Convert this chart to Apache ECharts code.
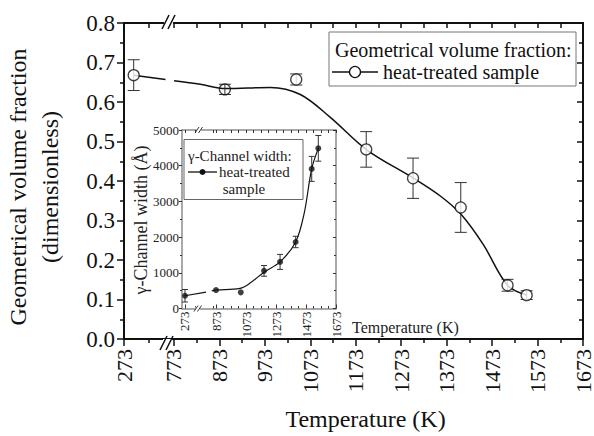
<!DOCTYPE html>
<html><head><meta charset="utf-8">
<script src="https://cdn.jsdelivr.net/npm/echarts@6/dist/echarts.min.js"></script>
<style>
html,body{margin:0;padding:0;background:#fff}
#c{width:594px;height:436px}
#c text{font-family:'Liberation Serif', serif !important;}
</style>
</head><body><div id="c"></div>
<script>
const FONT = "'Liberation Serif', serif";
const BLACK = '#111';
const GREY = '#8c8c8c';

// ---------- main chart ----------
const mainTickLabels = ['273','773','873','973','1073','1173','1273','1373','1473','1573','1673'];
const mainMinorTemps = [523, 823, 923, 1023, 1123, 1223, 1323, 1423, 1523, 1623];
const mainTemp = [370, 885, 1042, 1196, 1299, 1404, 1507, 1549];
const mainFrac = [0.668, 0.632, 0.657, 0.480, 0.407, 0.333, 0.136, 0.111];
const mainErr  = [0.039, 0.013, 0.014, 0.045, 0.051, 0.063, 0.015, 0.011];
const fitTemp = [370, 688, 730, 773, 831, 886, 985, 1051, 1117, 1197, 1300, 1359, 1405, 1453, 1507, 1549];
const fitFrac = [0.668, 0.657, null, 0.654, 0.645, 0.634, 0.637, 0.619, 0.561, 0.479, 0.407, 0.362, 0.315, 0.24, 0.136, 0.111];

// ---------- inset ----------
const insetTickLabels = ['273','873','1073','1273','1473','1673'];
const insetMinorTemps = [473, 823, 923, 973, 1023, 1123, 1173, 1223, 1323, 1373, 1423, 1523, 1573, 1623];
const insetTemp  = [273, 873, 1038, 1193, 1300, 1404, 1511, 1555];
const insetWidth = [357, 516, 452, 1054, 1305, 1863, 3911, 4486];
const insetErr   = [175, 0, 0, 150, 210, 160, 350, 360];
const insetFitTemp  = [273, 679, 735, 790, 873, 1033, 1100, 1193, 1300, 1404, 1460, 1511, 1555];
const insetFitWidth = [357, 460, null, 494, 516, 563, 711, 1018, 1305, 1863, 2650, 3911, 4486];

// broken-axis mappings (temperature -> axis units)
function mainU(T){ return T >= 773 ? T - 663 : (T - 273) * 110 / 500; }
function insetU(T){ return T >= 873 ? T - 646 : 20 + (T - 273) * 207 / 600; }

const mainTickU = mainTickLabels.map(s => mainU(+s));
const mainMinorU = mainMinorTemps.map(mainU);
const insetTickU = insetTickLabels.map(s => insetU(+s));
const insetMinorU = insetMinorTemps.map(insetU);

function labelFor(ticks, labels){
  return function(v){
    for (let i = 0; i < ticks.length; i++) if (Math.abs(ticks[i] - v) < 1e-6) return labels[i];
    return '';
  };
}

function errBar(half, color){
  return function(params, api){
    const u = api.value(0), lo = api.value(1), hi = api.value(2);
    const a = api.coord([u, lo]), b = api.coord([u, hi]);
    const st = {stroke: color, lineWidth: 1};
    return {type:'group', children:[
      {type:'line', shape:{x1:a[0], y1:a[1], x2:b[0], y2:b[1]}, style:st},
      {type:'line', shape:{x1:a[0]-half, y1:a[1], x2:a[0]+half, y2:a[1]}, style:st},
      {type:'line', shape:{x1:b[0]-half, y1:b[1], x2:b[0]+half, y2:b[1]}, style:st}
    ]};
  };
}

// the 2nd point is drawn see-through in the original (curve and bar visible inside)
const mainPts = mainTemp.map((t,i) => i === 1
  ? {value:[mainU(t), mainFrac[i]], itemStyle:{color:'rgba(255,255,255,0)'}}
  : [mainU(t), mainFrac[i]]);
const mainErrData = mainTemp.map((t,i) => [mainU(t), mainFrac[i]-mainErr[i], mainFrac[i]+mainErr[i]]);
const fitData = fitTemp.map((t,i) => [mainU(t), fitFrac[i] === null ? '-' : fitFrac[i]]);

const insetPts = insetTemp.map((t,i) => [insetU(t), insetWidth[i]]);
const insetErrData = insetTemp.map((t,i) => [insetU(t), insetWidth[i]-insetErr[i], insetWidth[i]+insetErr[i]]).filter((d,i) => insetErr[i] > 0);
const insetFitData = insetFitTemp.map((t,i) => [insetU(t), insetFitWidth[i] === null ? '-' : insetFitWidth[i]]);

const chart = echarts.init(document.getElementById('c'), null, {renderer:'svg', width:594, height:436});

const noSplit = {show:false};
const option = {
  animation:false,
  backgroundColor:'#fff',
  textStyle:{fontFamily:FONT},
  grid:[
    {left:124, top:23, width:459, height:320},
    {left:182, top:130, width:154, height:178.5, show:true, backgroundColor:'#fff', borderWidth:0}
  ],
  xAxis:[
    { // 0 main bottom
      type:'value', gridIndex:0, position:'bottom', min:0, max:1010,
      axisLine:{show:true, onZero:false, lineStyle:{color:BLACK, width:2}},
      axisTick:{show:true, inside:false, length:7, lineStyle:{color:BLACK, width:1.5}, customValues:mainTickU},
      axisLabel:{show:true, rotate:90, margin:10, fontFamily:FONT, fontSize:22, color:BLACK, customValues:mainTickU, formatter:labelFor(mainTickU, mainTickLabels)},
      splitLine:noSplit,
      name:'Temperature (K)', nameLocation:'middle', nameGap:68,
      nameTextStyle:{fontFamily:FONT, fontSize:24, color:BLACK, padding:[0,0,0,24]}
    },
    { // 1 main bottom minor ticks
      type:'value', gridIndex:0, position:'bottom', min:0, max:1010,
      axisLine:{show:false, onZero:false},
      axisTick:{show:true, inside:false, length:4, lineStyle:{color:BLACK, width:1.5}, customValues:mainMinorU},
      axisLabel:{show:false}, splitLine:noSplit
    },
    { // 2 main top
      type:'value', gridIndex:0, position:'top', min:0, max:1010,
      axisLine:{show:true, onZero:false, lineStyle:{color:BLACK, width:2}},
      axisTick:{show:true, inside:true, length:5, lineStyle:{color:BLACK, width:1.5}, customValues:mainTickU.concat(mainMinorU)},
      axisLabel:{show:false}, splitLine:noSplit
    },
    { // 3 inset bottom
      type:'value', gridIndex:1, position:'bottom', min:0, max:1027,
      axisLine:{show:true, onZero:false, lineStyle:{color:GREY, width:1.5}},
      axisTick:{show:true, inside:true, length:4, lineStyle:{color:'#333', width:1}, customValues:insetTickU},
      axisLabel:{show:true, rotate:90, margin:3, fontFamily:FONT, fontSize:13, color:'#222', customValues:insetTickU, formatter:labelFor(insetTickU, insetTickLabels)},
      splitLine:noSplit
    },
    { // 4 inset bottom minor
      type:'value', gridIndex:1, position:'bottom', min:0, max:1027,
      axisLine:{show:false, onZero:false},
      axisTick:{show:true, inside:true, length:2.5, lineStyle:{color:'#333', width:1}, customValues:insetMinorU},
      axisLabel:{show:false}, splitLine:noSplit
    },
    { // 5 inset top
      type:'value', gridIndex:1, position:'top', min:0, max:1027,
      axisLine:{show:true, onZero:false, lineStyle:{color:GREY, width:1.5}},
      axisTick:{show:true, inside:true, length:3, lineStyle:{color:'#333', width:1}, customValues:insetTickU.concat(insetMinorU)},
      axisLabel:{show:false}, splitLine:noSplit
    }
  ],
  yAxis:[
    { // 0 main left
      type:'value', gridIndex:0, position:'left', min:0, max:0.8, interval:0.1,
      axisLine:{show:true, onZero:false, lineStyle:{color:BLACK, width:2}},
      axisTick:{show:true, inside:false, length:7, lineStyle:{color:BLACK, width:1.5}},
      minorTick:{show:true, splitNumber:2, length:4, lineStyle:{color:BLACK, width:1.5}},
      axisLabel:{fontFamily:FONT, fontSize:23, color:BLACK, margin:9, formatter:v => v.toFixed(1)},
      splitLine:noSplit, minorSplitLine:noSplit
    },
    { // 1 main right
      type:'value', gridIndex:0, position:'right', min:0, max:0.8, interval:0.1,
      axisLine:{show:true, onZero:false, lineStyle:{color:BLACK, width:2}},
      axisTick:{show:true, inside:true, length:6, lineStyle:{color:BLACK, width:1.5}},
      minorTick:{show:true, splitNumber:2, length:4, lineStyle:{color:BLACK, width:1.5}},
      axisLabel:{show:false}, splitLine:noSplit, minorSplitLine:noSplit
    },
    { // 2 inset left
      type:'value', gridIndex:1, position:'left', min:0, max:5000, interval:1000,
      axisLine:{show:true, onZero:false, lineStyle:{color:GREY, width:1.5}},
      axisTick:{show:true, inside:false, length:3, lineStyle:{color:'#333', width:1}},
      minorTick:{show:true, splitNumber:2, length:2, lineStyle:{color:'#333', width:1}},
      axisLabel:{fontFamily:FONT, fontSize:13, color:'#222', margin:3, formatter:v => String(v)},
      splitLine:noSplit, minorSplitLine:noSplit
    },
    { // 3 inset right
      type:'value', gridIndex:1, position:'right', min:0, max:5000, interval:1000,
      axisLine:{show:true, onZero:false, lineStyle:{color:GREY, width:1.5}},
      axisTick:{show:true, inside:true, length:3, lineStyle:{color:'#333', width:1}},
      minorTick:{show:true, splitNumber:2, length:2, lineStyle:{color:'#333', width:1}},
      axisLabel:{show:false}, splitLine:noSplit, minorSplitLine:noSplit
    }
  ],
  series:[
    { name:'fit', type:'line', xAxisIndex:0, yAxisIndex:0, data:fitData, smooth:0.35,
      showSymbol:false, symbol:'none', connectNulls:false,
      lineStyle:{color:BLACK, width:1.5}, z:2, silent:true },
    { name:'err', type:'custom', xAxisIndex:0, yAxisIndex:0, data:mainErrData,
      renderItem:errBar(6, '#333'), z:3, silent:true },
    { name:'heat-treated sample', type:'scatter', xAxisIndex:0, yAxisIndex:0, data:mainPts,
      symbol:'circle', symbolSize:11,
      itemStyle:{color:'#fff', borderColor:BLACK, borderWidth:1.3}, z:4 },

    { name:'insetFit', type:'line', xAxisIndex:3, yAxisIndex:2, data:insetFitData, smooth:0.35,
      showSymbol:false, symbol:'none', connectNulls:false,
      lineStyle:{color:BLACK, width:1.2}, z:6, silent:true },
    { name:'insetErr', type:'custom', xAxisIndex:3, yAxisIndex:2, data:insetErrData,
      renderItem:errBar(3, '#333'), z:7, silent:true },
    { name:'γ-Channel width', type:'scatter', xAxisIndex:3, yAxisIndex:2, data:insetPts,
      symbol:'circle', symbolSize:6, itemStyle:{color:BLACK}, z:8 }
  ],
  graphic:[
    // main y-axis title
    {type:'text', x:18, y:187, rotation:Math.PI/2, z:20,
      style:{text:'Geometrical volume fraction', fontFamily:FONT, fontSize:24, fill:BLACK, align:'center', verticalAlign:'middle'}},
    {type:'text', x:50, y:187, rotation:Math.PI/2, z:20,
      style:{text:'(dimensionless)', fontFamily:FONT, fontSize:24, fill:BLACK, align:'center', verticalAlign:'middle'}},
    // main axis breaks
    {type:'rect', shape:{x:163, y:339, width:9, height:8}, style:{fill:'#fff'}, z:30},
    {type:'line', shape:{x1:160, y1:350, x2:167, y2:336}, style:{stroke:BLACK, lineWidth:1.5}, z:31},
    {type:'line', shape:{x1:166, y1:350, x2:173, y2:336}, style:{stroke:BLACK, lineWidth:1.5}, z:31},
    {type:'rect', shape:{x:164, y:19, width:9, height:8}, style:{fill:'#fff'}, z:30},
    {type:'line', shape:{x1:162, y1:29, x2:169, y2:15}, style:{stroke:BLACK, lineWidth:1.5}, z:31},
    {type:'line', shape:{x1:168, y1:29, x2:175, y2:15}, style:{stroke:BLACK, lineWidth:1.5}, z:31},
    // inset axis breaks
    {type:'rect', shape:{x:195.5, y:306.5, width:4.5, height:4}, style:{fill:'#fff'}, z:30},
    {type:'line', shape:{x1:194, y1:311.5, x2:198, y2:305.5}, style:{stroke:'#333', lineWidth:1}, z:31},
    {type:'line', shape:{x1:197.5, y1:311.5, x2:201.5, y2:305.5}, style:{stroke:'#333', lineWidth:1}, z:31},
    {type:'rect', shape:{x:196.5, y:128, width:4.5, height:4}, style:{fill:'#fff'}, z:30},
    {type:'line', shape:{x1:195, y1:133, x2:199, y2:127}, style:{stroke:'#333', lineWidth:1}, z:31},
    {type:'line', shape:{x1:198.5, y1:133, x2:202.5, y2:127}, style:{stroke:'#333', lineWidth:1}, z:31},
    // main legend
    {type:'rect', shape:{x:329, y:32, width:247, height:54}, style:{fill:'#fff', stroke:'#777', lineWidth:1}, z:40},
    {type:'text', x:335, y:50, z:41,
      style:{text:'Geometrical volume fraction:', fontFamily:FONT, fontSize:20, fill:BLACK, align:'left', verticalAlign:'middle'}},
    {type:'line', shape:{x1:332, y1:72, x2:378, y2:72}, style:{stroke:BLACK, lineWidth:1.5}, z:41},
    {type:'circle', shape:{cx:355, cy:72, r:5.5}, style:{fill:'#fff', stroke:BLACK, lineWidth:1.3}, z:42},
    {type:'text', x:383, y:72, z:41,
      style:{text:'heat-treated sample', fontFamily:FONT, fontSize:20, fill:BLACK, align:'left', verticalAlign:'middle'}},
    // inset titles
    {type:'text', x:141, y:220, rotation:Math.PI/2, z:20,
      style:{text:'γ-Channel width (Å)', fontFamily:FONT, fontSize:18, fill:'#222', align:'center', verticalAlign:'middle'}},
    {type:'text', x:352, y:327, z:20,
      style:{text:'Temperature (K)', fontFamily:FONT, fontSize:16, fill:'#222', align:'left', verticalAlign:'middle'}},
    // inset legend
    {type:'rect', shape:{x:184, y:139.5, width:119, height:60}, style:{fill:'#fff', stroke:'#666', lineWidth:1}, z:40},
    {type:'text', x:188, y:155.5, z:41,
      style:{text:'γ-Channel width:', fontFamily:FONT, fontSize:15, fill:'#222', align:'left', verticalAlign:'middle'}},
    {type:'line', shape:{x1:188, y1:172, x2:217, y2:172}, style:{stroke:BLACK, lineWidth:1.3}, z:41},
    {type:'circle', shape:{cx:202.5, cy:172, r:3}, style:{fill:BLACK}, z:42},
    {type:'text', x:219, y:172, z:41,
      style:{text:'heat-treated', fontFamily:FONT, fontSize:15, fill:'#222', align:'left', verticalAlign:'middle'}},
    {type:'text', x:244, y:188.5, z:41,
      style:{text:'sample', fontFamily:FONT, fontSize:15, fill:'#222', align:'center', verticalAlign:'middle'}}
  ]
};
chart.setOption(option);
</script>
</body></html>
